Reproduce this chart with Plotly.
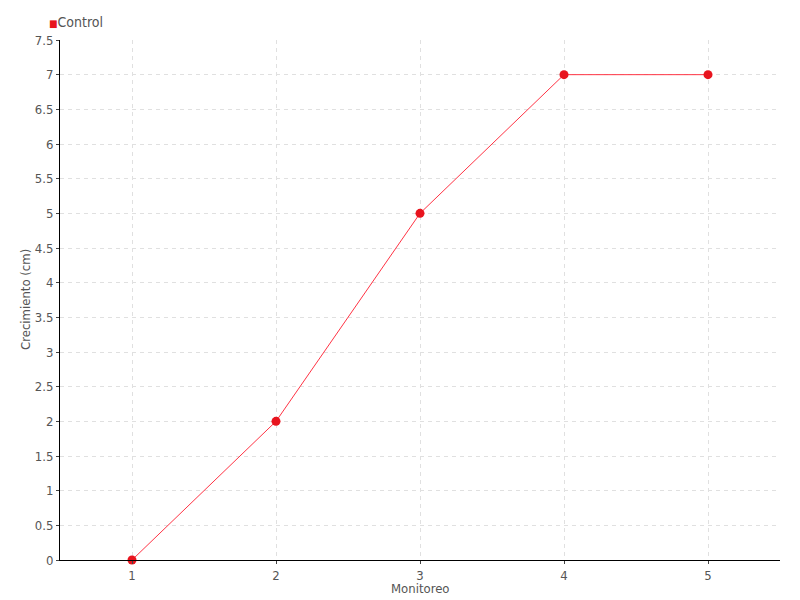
import plotly.graph_objects as go

monitoreo = [1, 2, 3, 4, 5]
crecimiento = [0, 2, 5, 7, 7]
y_ticks = [0, 0.5, 1, 1.5, 2, 2.5, 3, 3.5, 4, 4.5, 5, 5.5, 6, 6.5, 7, 7.5]
serie = "Control"
x_title = "Monitoreo"
y_title = "Crecimiento (cm)"

font_family = "Liberation Sans Narrow, DejaVu Sans Condensed, sans-serif"
grid = "#e0e0e0"
red = "#e8141e"
text_color = "#555555"

fig = go.Figure()
fig.add_trace(go.Scatter(
    x=monitoreo,
    y=crecimiento,
    mode="lines+markers",
    name=serie,
    showlegend=False,
    line=dict(color="#ff3344", width=1),
    marker=dict(color=red, size=9, symbol="circle"),
    cliponaxis=False,
))

# legend-like label: small red square followed by the series name
fig.add_annotation(
    xref="paper", yref="paper", x=-0.018, y=1.0, yshift=18,
    xanchor="left", yanchor="middle", showarrow=False,
    text=f"<span style='color:{red};font-size:10px'>■</span>{serie}",
    font=dict(size=14, color=text_color),
)

# axis titles placed by hand (tick labels sit very close to the axes)
fig.add_annotation(
    xref="paper", yref="paper", x=0.5, y=0, yshift=-28,
    xanchor="center", yanchor="middle", showarrow=False,
    text=x_title, font=dict(size=13, color=text_color),
)
fig.add_annotation(
    xref="paper", yref="paper", x=0, xshift=-35, y=0.5,
    xanchor="center", yanchor="middle", showarrow=False, textangle=-90,
    text=y_title, font=dict(size=13, color=text_color),
)

# page has an 8px body margin, so the margins are shifted by 8px
fig.update_layout(
    width=800,
    height=600,
    margin=dict(l=52, r=28, t=32, b=48, autoexpand=False),
    paper_bgcolor="white",
    plot_bgcolor="white",
    font=dict(family=font_family, size=13, color=text_color),
    showlegend=False,
    xaxis=dict(
        range=[0.5, 5.5],
        tickvals=monitoreo,
        showgrid=True, gridcolor=grid, griddash="4px,4px",
        showline=True, linecolor="black", linewidth=1,
        ticks="outside", ticklen=3, tickcolor="#444",
        zeroline=False, automargin=False,
    ),
    yaxis=dict(
        range=[0, 7.5],
        tickvals=y_ticks,
        ticktext=[f"{v:g}" for v in y_ticks],
        showgrid=True, gridcolor=grid, griddash="4px,4px",
        showline=True, linecolor="black", linewidth=1,
        ticks="outside", ticklen=3, tickcolor="#444",
        zeroline=False, automargin=False,
    ),
)

fig.write_html("out.html")
